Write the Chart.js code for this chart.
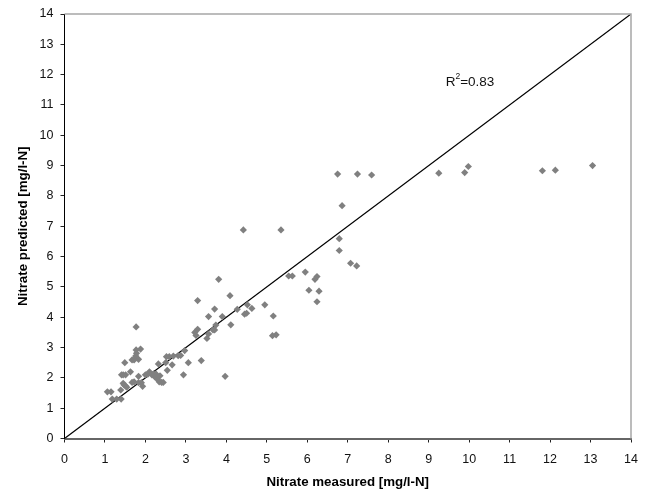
<!DOCTYPE html>
<html lang="en">
<head>
    <title>Nitrate measured vs predicted</title>
    <meta charset="utf-8">
    <style>
        html, body { margin: 0; padding: 0; background: #fff; }
        #nitrateChart { display: block; }
    </style>
</head>
<body>
    <canvas id="nitrateChart" width="645" height="492"></canvas>

    <script src="https://cdn.jsdelivr.net/npm/chart.js"></script>
    <script>
        const measured = [
            1.06, 1.15, 1.18, 1.29, 1.40, 1.39, 1.49, 1.41, 1.45, 1.51, 1.45, 1.51, 1.47, 1.54, 1.63,
            1.67, 1.72, 1.83, 1.90, 1.93, 1.83, 1.67, 1.72, 1.76, 1.83, 1.77, 1.88, 1.77, 1.78,
            2.00, 2.06, 2.10, 2.16, 2.20, 2.26, 2.24, 2.30, 2.34, 2.40, 2.44, 2.36,
            2.32, 2.50, 2.54, 2.66, 2.52, 2.59, 2.69, 2.81, 2.87, 2.97, 2.94, 3.06, 3.38, 3.97,
            3.29, 3.81, 4.09, 3.71, 3.56, 3.90, 4.27, 3.74, 4.11, 3.71, 3.67, 3.52, 3.56, 3.25, 3.22, 3.29,
            4.52, 4.63, 4.50, 4.45, 4.95, 5.16, 5.14, 5.23,
            6.75, 7.24, 7.59, 6.86, 4.42, 5.35, 6.79, 6.79, 7.07, 7.22, 5.54, 5.63, 5.95, 6.19, 6.24,
            6.04, 6.29, 6.24,
            9.25, 9.89, 9.98, 11.81, 12.13, 13.05
        ];
        const predicted = [
            1.54, 1.54, 1.30, 1.30, 1.30, 1.60, 2.50, 2.10, 2.10, 2.10, 1.82, 1.73, 1.77, 1.69, 2.20,
            1.85, 1.87, 1.84, 1.84, 1.72, 2.05, 2.59, 2.59, 2.72, 2.61, 2.92, 2.95, 3.68, 2.81,
            2.10, 2.12, 2.20, 2.10, 2.13, 2.13, 2.02, 1.95, 1.87, 1.85, 1.85, 2.07,
            2.46, 2.50, 2.25, 2.43, 2.70, 2.70, 2.72, 2.73, 2.74, 2.90, 2.10, 2.50, 2.57, 2.05,
            4.55, 5.25, 4.71, 4.27, 4.02, 4.02, 4.26, 3.74, 3.75, 3.58, 3.58, 3.30, 3.45, 3.40, 3.50, 3.60,
            4.41, 4.29, 4.13, 4.10, 4.41, 4.04, 3.39, 3.42,
            8.72, 8.72, 8.69, 7.68, 6.88, 6.88, 6.59, 6.20, 5.78, 5.69, 5.36, 5.36, 5.49, 5.25, 5.34,
            4.89, 4.86, 4.51,
            8.75, 8.77, 8.97, 8.83, 8.85, 9.00
        ];
        const lineX = [0, 14];
        const lineY = [0, 14];
        const ticks14 = [0, 1, 2, 3, 4, 5, 6, 7, 8, 9, 10, 11, 12, 13, 14];

        const fontName = '"Liberation Sans", Arial, sans-serif';

        // top + right frame and the R2 note
        const extras = {
            id: 'extras',
            afterDraw(chart) {
                const { ctx, chartArea: a, scales } = chart;
                ctx.save();
                ctx.strokeStyle = '#a6a6a6';
                ctx.lineWidth = 1.5;
                ctx.beginPath();
                ctx.moveTo(a.left, a.top);
                ctx.lineTo(a.right, a.top);
                ctx.lineTo(a.right, a.bottom);
                ctx.stroke();

                const px = scales.x.getPixelForValue(9.42);
                const py = scales.y.getPixelForValue(11.63);
                ctx.fillStyle = '#111';
                ctx.textBaseline = 'alphabetic';
                ctx.font = '13.5px ' + fontName;
                ctx.fillText('R', px, py);
                let w = ctx.measureText('R').width;
                ctx.font = '8.5px ' + fontName;
                ctx.fillText('2', px + w, py - 7);
                w += ctx.measureText('2').width;
                ctx.font = '13.5px ' + fontName;
                ctx.fillText('=0.83', px + w, py);
                ctx.restore();
            }
        };

        new Chart(document.getElementById('nitrateChart').getContext('2d'), {
            type: 'scatter',
            plugins: [extras],
            data: {
                datasets: [{
                    label: 'Samples',
                    data: measured.map((x, i) => ({ x: x, y: predicted[i] })),
                    backgroundColor: '#808080',
                    borderColor: '#808080',
                    pointStyle: 'rectRot',
                    pointRadius: 3.6,
                    borderWidth: 0
                }, {
                    label: '1:1',
                    type: 'line',
                    data: lineX.map((x, i) => ({ x: x, y: lineY[i] })),
                    borderColor: '#000',
                    borderWidth: 1.2,
                    pointRadius: 0,
                    fill: false
                }]
            },
            options: {
                responsive: false,
                animation: false,
                layout: { padding: { top: 14, right: 14, left: 0, bottom: 0 } },
                plugins: { legend: { display: false }, tooltip: { enabled: false } },
                scales: {
                    x: {
                        type: 'linear',
                        min: 0,
                        max: 14,
                        afterFit(scale) { scale.height = 53.5; scale.paddingRight = 0; scale.paddingLeft = 0; },
                        afterBuildTicks(scale) { scale.ticks = ticks14.map(v => ({ value: v })); },
                        grid: { drawOnChartArea: false, color: '#222', tickLength: 4 },
                        border: { color: '#666', width: 2 },
                        ticks: { color: '#111', maxRotation: 0, padding: 10, font: { family: fontName, size: 12.5 } },
                        title: {
                            display: true,
                            text: 'Nitrate measured [mg/l-N]',
                            color: '#000',
                            padding: { top: 4, bottom: 2 },
                            font: { family: fontName, size: 13.3, weight: 'bold' }
                        }
                    },
                    y: {
                        min: 0,
                        max: 14,
                        afterFit(scale) { scale.width = 64.5; scale.paddingTop = 0; scale.paddingBottom = 0; },
                        afterBuildTicks(scale) { scale.ticks = ticks14.map(v => ({ value: v })); },
                        grid: { drawOnChartArea: false, color: '#222', tickLength: 4 },
                        border: { color: '#000', width: 1 },
                        ticks: { color: '#111', padding: 7, font: { family: fontName, size: 12.5 } },
                        title: {
                            display: true,
                            text: 'Nitrate predicted [mg/l-N]',
                            color: '#000',
                            padding: { top: 15, bottom: 0 },
                            font: { family: fontName, size: 13.3, weight: 'bold' }
                        }
                    }
                }
            }
        });
    </script>
</body>
</html>
